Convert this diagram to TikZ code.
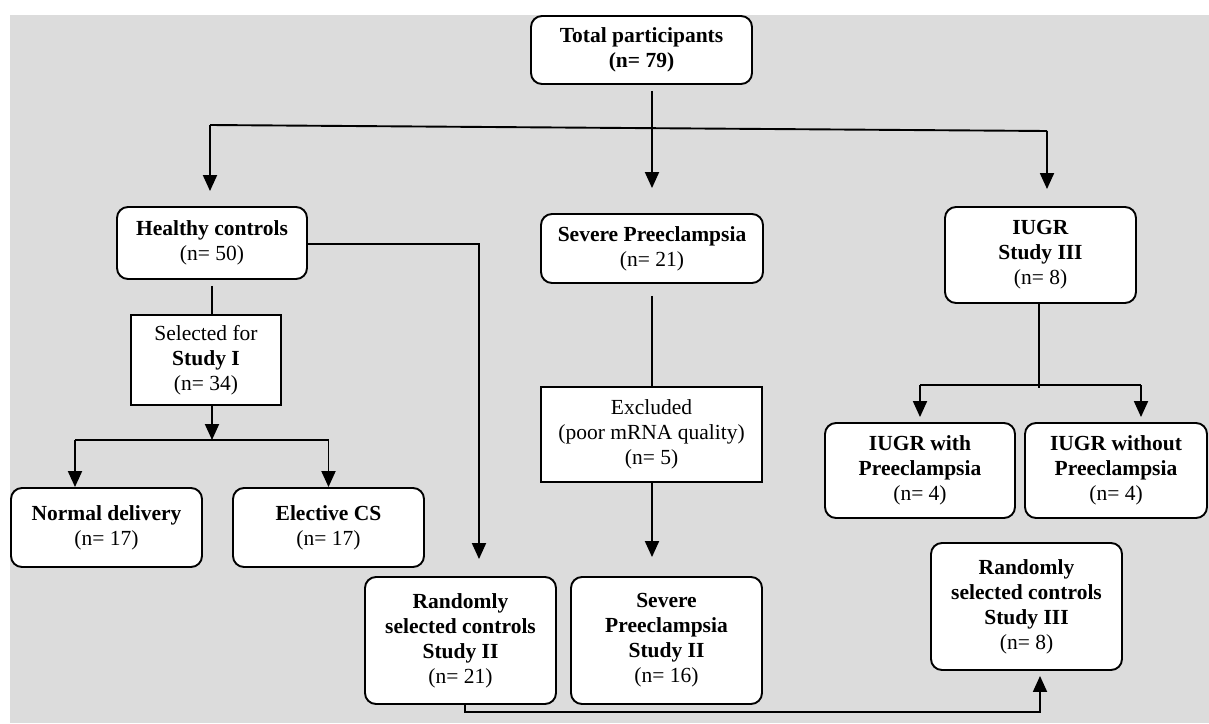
\documentclass[tikz,border=0pt]{standalone}
\usepackage{fontspec}
\setmainfont{Liberation Serif}
\usetikzlibrary{arrows.meta,calc}
\definecolor{bggray}{RGB}{220,220,220}
\tikzset{
  rbox/.style={draw=black, line width=1.9pt, fill=white, rounded corners=11pt, align=center, inner sep=0pt, font=\fontsize{21.5}{25}\selectfont},
  sbox/.style={draw=black, line width=1.9pt, fill=white, align=center, inner sep=0pt, font=\fontsize{21.5}{25}\selectfont},
  conn/.style={draw=black, line width=1.9pt},
  arr/.style={conn, -{Triangle[length=16pt,width=14pt]}}
}
\begin{document}
\begin{tikzpicture}[x=1pt,y=-1pt]
\useasboundingbox (0,0) rectangle (1209,723);
\fill[bggray] (10,15) rectangle (1209,723);

% nodes
\node[rbox, minimum width=221pt, minimum height=68pt] (total) at (641.5,50) {\textbf{Total participants}\\\textbf{(n= 79)}};
\node[rbox, minimum width=190pt, minimum height=72pt] (healthy) at (212,243) {\textbf{Healthy controls}\\(n= 50)};
\node[rbox, minimum width=222pt, minimum height=69pt] (severe) at (652,248.5) {\textbf{Severe Preeclampsia}\\(n= 21)};
\node[rbox, minimum width=191pt, minimum height=96pt] (iugr) at (1040.5,255) {\textbf{IUGR}\\\textbf{Study III}\\(n= 8)};
\node[sbox, minimum width=150pt, minimum height=90pt] (selected) at (206,360) {Selected for\\\textbf{Study I}\\(n= 34)};
\node[sbox, minimum width=221pt, minimum height=95pt] (excluded) at (651.5,434.5) {Excluded\\(poor mRNA quality)\\(n= 5)};
\node[rbox, minimum width=190pt, minimum height=95pt] (iugrwith) at (920,470.5) {\textbf{IUGR with}\\\textbf{Preeclampsia}\\(n= 4)};
\node[rbox, minimum width=182pt, minimum height=95pt] (iugrwithout) at (1116,470.5) {\textbf{IUGR without}\\\textbf{Preeclampsia}\\(n= 4)};
\node[rbox, minimum width=191pt, minimum height=79pt] (normal) at (106.5,527.5) {\textbf{Normal delivery}\\(n= 17)};
\node[rbox, minimum width=191pt, minimum height=79pt] (elective) at (328.5,527.5) {\textbf{Elective CS}\\(n= 17)};
\node[rbox, minimum width=191pt, minimum height=127pt] (rand2) at (460.5,640.5) {\textbf{Randomly}\\\textbf{selected controls}\\\textbf{Study II}\\(n= 21)};
\node[rbox, minimum width=191pt, minimum height=127pt] (sev2) at (666.5,640.5) {\textbf{Severe}\\\textbf{Preeclampsia}\\\textbf{Study II}\\(n= 16)};
\node[rbox, minimum width=191pt, minimum height=127pt] (rand3) at (1026.5,606.5) {\textbf{Randomly}\\\textbf{selected controls}\\\textbf{Study III}\\(n= 8)};

% coordinates
\coordinate (bl) at (210,125);
\coordinate (br) at (1047,131);
\coordinate (hc) at (479,244);
\coordinate (sj) at (212,440);
\coordinate (sjl) at (75,440);
\coordinate (sjr) at (328.5,440);
\coordinate (ij) at (1039,385);
\coordinate (ijb) at (1039,388);
\coordinate (ijl) at (920,385);
\coordinate (ijr) at (1141,385);
\coordinate (bb) at (465,712);
\coordinate (bc) at (1040,712);

% connectors
\draw[arr, shorten <=6pt, shorten >=25pt] (total.south -| severe.north) -- (severe.north);
\draw[conn] (bl) -- (br);
\draw[arr, shorten >=15pt] (bl) -- (bl |- healthy.north);
\draw[arr, shorten >=17pt] (br) -- (br |- iugr.north);

\draw[arr, shorten >=17pt] (healthy.east |- hc) -- (hc) -- (hc |- rand2.north);
\draw[conn, shorten <=6pt] (healthy.south) -- (healthy.south |- selected.north);
\draw[arr] (selected.south -| sj) -- (sj);
\draw[conn] (sjl) -- (sjr);
\draw[arr] (sjl) -- (sjl |- normal.north);
\draw[arr] (sjr) -- (elective.north);

\draw[conn, shorten <=12pt] (severe.south) -- (severe.south |- excluded.north);
\draw[arr, shorten >=19pt] (excluded.south -| severe.south) -- (severe.south |- sev2.north);

\draw[conn] (iugr.south -| ij) -- (ijb);
\draw[conn] (ijl) -- (ijr);
\draw[arr, shorten >=5pt] (ijl) -- (iugrwith.north);
\draw[arr, shorten >=5pt] (ijr) -- (ijr |- iugrwithout.north);

\draw[arr, shorten >=5pt] (rand2.south -| bb) -- (bb) -- (bc) -- (bc |- rand3.south);
\end{tikzpicture}
\end{document}
